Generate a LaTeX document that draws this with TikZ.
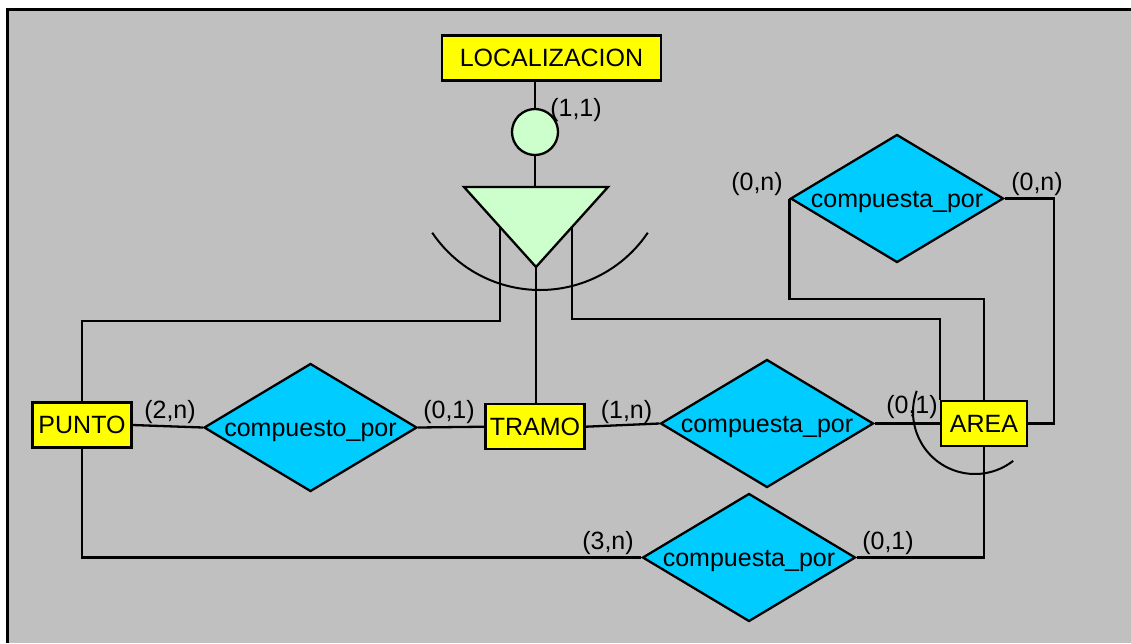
\documentclass[tikz,border=0pt]{standalone}
\usepackage{fontspec}
\setmainfont{Liberation Sans}
\usetikzlibrary{shapes.geometric}
\definecolor{bggray}{HTML}{C0C0C0}
\definecolor{entyellow}{HTML}{FFFF00}
\definecolor{relcyan}{HTML}{00CCFF}
\definecolor{lgreen}{HTML}{CCFFCC}
\newcommand{\lowtext}[1]{\raisebox{-4pt}[\height][\depth]{#1}}
\tikzset{
  every node/.style={font=\fontsize{25}{29}\selectfont},
  conn/.style={line width=2.3pt, line join=miter},
  entity/.style={draw, line width=2.3pt, fill=entyellow, rectangle, inner sep=0pt, minimum height=45pt},
  rel/.style={draw, line width=2.3pt, fill=relcyan, diamond, aspect=1.66, inner sep=0pt, minimum width=213pt, minimum height=128pt},
  card/.style={inner sep=0pt},
}
\begin{document}
\begin{tikzpicture}[x=1pt,y=-1pt]
\useasboundingbox (0,0) rectangle (1131,643);
\fill[bggray] (7,9) rectangle (1131,643);
\draw[line width=3pt] (7,643) -- (7,9) -- (1131,9);

\draw[line width=2pt] (540,160) ++(214:130pt) arc[start angle=214, end angle=326, radius=130pt];

\coordinate (tl) at (500,227);
\coordinate (tr) at (572,227);
\coordinate (apex) at (536,267);
\coordinate (tritop) at (535,187);

\node[entity, minimum width=219pt] (loc) at (551.5,58) {LOCALIZACION};
\node[draw, line width=2.3pt, fill=lgreen, circle, minimum size=46pt, inner sep=0pt] (circ) at (535,132) {};
\node[entity, minimum width=99pt] (punto) at (82,425) {PUNTO};
\node[entity, minimum width=99pt] (tramo) at (535,426.7) {TRAMO};
\node[entity, minimum width=86pt] (area) at (984,423.5) {AREA};
\node[rel] (rel1) at (310.5,427.5) {\lowtext{compuesto\_por}};
\node[rel] (rel3) at (767,423.5) {\lowtext{compuesta\_por}};
\node[rel] (rel2) at (897,198.5) {\lowtext{compuesta\_por}};
\node[rel] (rel4) at (749,557.5) {\lowtext{compuesta\_por}};

\draw[conn] (circ.north |- loc.south) -- (circ.north);
\draw[conn] (circ.south) -- (tritop);
\draw[conn, fill=lgreen] (464,187) -- (608,187) -- (apex) -- cycle;

\draw[conn] (tl) -- ++(0,94) -| (punto.north);
\draw[conn] (apex) -- (apex |- tramo.north);
\draw[conn] (tr) -- ++(0,92) -| (area.north west);
\draw[conn] (rel2.west) -- ++(0,100.5) -| (area.north);
\draw[conn] (rel2.east) -- ++(49,0) |- (area.east);
\draw[conn] (punto.east) -- (rel1.west);
\draw[conn] (rel1.east) -- (tramo.west);
\draw[conn] (tramo.east) -- (rel3.west);
\draw[conn] (rel3.east) -- (area.west);
\draw[conn] (area.south) |- (rel4.east);
\draw[conn] (punto.south) |- (rel4.west);

\draw[line width=2pt] (975,412) ++(160:62pt) arc[start angle=160, end angle=308, radius=62pt];

\node[card] (c11) at (576,110) {(1,1)};
\node[card] (c0nl) at (757,184) {(0,n)};
\node[card] (c0nr) at (1037,184) {(0,n)};
\node[card] (c2n) at (170,412) {(2,n)};
\node[card] (c01a) at (449,412) {(0,1)};
\node[card] (c1n) at (626.5,412) {(1,n)};
\node[card] (c01b) at (912,407) {(0,1)};
\node[card] (c3n) at (608,543) {(3,n)};
\node[card] (c01c) at (888,543) {(0,1)};
\end{tikzpicture}
\end{document}
